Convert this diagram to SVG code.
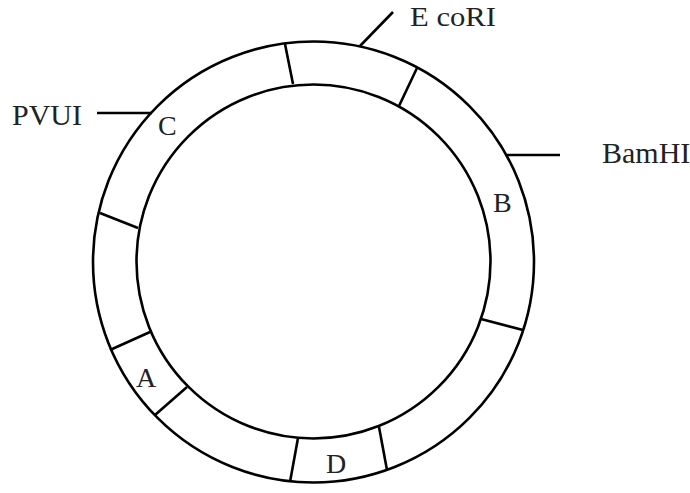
<svg xmlns="http://www.w3.org/2000/svg" width="690" height="493" viewBox="0 0 690 493">
<style>
.s{fill:none;stroke:#000;stroke-width:2.6;stroke-linecap:butt}
.lbl{font-family:"Liberation Serif","Times New Roman",serif;font-size:30px;fill:#222}
.seg{font-family:"Liberation Serif","Times New Roman",serif;font-size:28px;fill:#222}
</style>
<rect width="690" height="493" fill="#fff"/>
<g id="plasmid">
<circle class="s" cx="313.5" cy="262" r="220.5"/>
<circle class="s" cx="313.5" cy="261.5" r="177"/>
</g>
<g id="dividers">
<line class="s" x1="285" y1="44" x2="293" y2="84"/>
<line class="s" x1="417" y1="68" x2="399" y2="106"/>
<line class="s" x1="100" y1="213" x2="138" y2="228"/>
<line class="s" x1="523" y1="330" x2="481" y2="319"/>
<line class="s" x1="110" y1="350" x2="150" y2="332"/>
<line class="s" x1="155" y1="415" x2="187" y2="387"/>
<line class="s" x1="290" y1="482" x2="298" y2="438"/>
<line class="s" x1="387" y1="470" x2="379" y2="427"/>
</g>
<g id="sites">
<line class="s" x1="360" y1="46" x2="393" y2="12"/>
<line class="s" x1="97" y1="113" x2="152" y2="113"/>
<line class="s" x1="507" y1="155" x2="560" y2="155"/>
</g>
<g id="labels">
<text class="lbl" x="410" y="26" style="font-size:27px" textLength="86" lengthAdjust="spacingAndGlyphs">E coRI</text>
<text class="lbl" x="12" y="125">PVUI</text>
<text class="lbl" x="602" y="163">BamHI</text>
<text class="seg" x="158" y="135">C</text>
<text class="seg" x="493" y="212">B</text>
<text class="seg" x="136" y="387">A</text>
<text class="seg" x="326" y="473">D</text>
</g>
</svg>
